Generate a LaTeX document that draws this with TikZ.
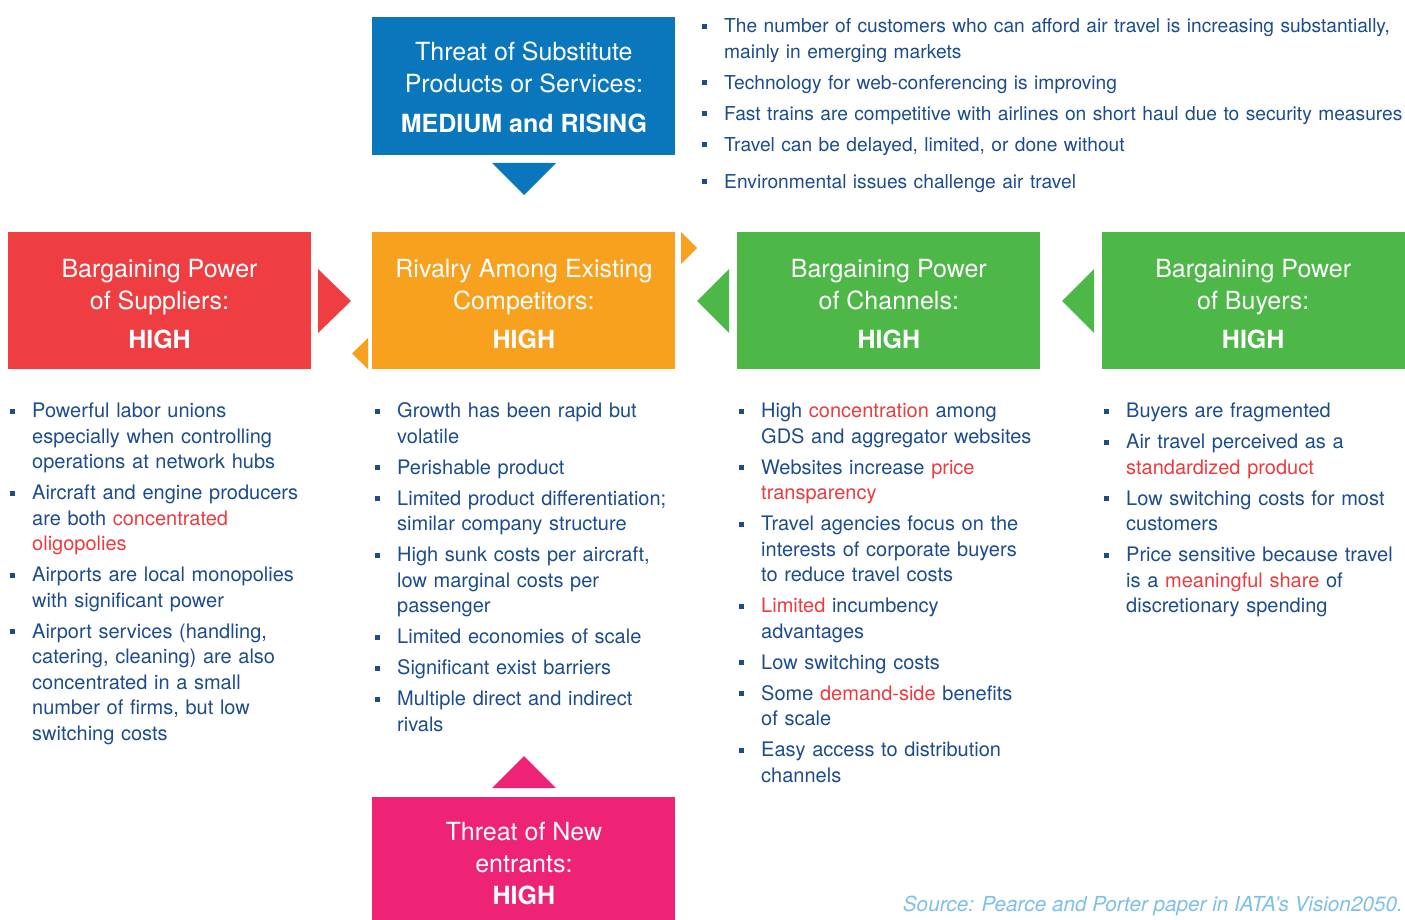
\documentclass[tikz,border=0pt]{standalone}
\usepackage{fontspec}
\setmainfont{TeX Gyre Heros}
\usetikzlibrary{positioning}

\definecolor{subblue}{HTML}{0A77BD}
\definecolor{supred}{HTML}{EF3E42}
\definecolor{rivorange}{HTML}{F7A11F}
\definecolor{chgreen}{HTML}{4DB848}
\definecolor{newpink}{HTML}{EE2375}
\definecolor{txtblue}{HTML}{1C4C8C}
\definecolor{hlred}{HTML}{EC3A3F}
\definecolor{srcblue}{HTML}{7CBFE9}

\newcommand{\hlt}[1]{\textcolor{hlred}{#1}}
\newcommand{\lift}[1]{\rule{0pt}{#1}}
\newenvironment{forcelist}{%
  \begin{list}{\rule[0.2em]{5pt}{5pt}}{%
    \setlength{\leftmargin}{22pt}\setlength{\labelwidth}{5pt}%
    \setlength{\labelsep}{17pt}\setlength{\itemsep}{5.5pt}%
    \setlength{\parsep}{0pt}\setlength{\topsep}{0pt}%
    \setlength{\partopsep}{0pt}}}{\end{list}}

\begin{document}
\begin{tikzpicture}
            [
            x=1pt, y=-1pt,
            node distance=61pt,
            forcebox/.style={
                rectangle,
                minimum width=303pt,
                minimum height=137pt,
                inner sep=0pt,
                text=white,
                align=center,
                font=\fontsize{25}{32}\selectfont
            },
            points/.style={
                anchor=north west,
                inner sep=0pt,
                text width=430pt,
                align=left,
                text=txtblue,
                font=\fontsize{20}{25.5}\selectfont
            }
            ]
            \useasboundingbox (0,0) rectangle (1405,920);
            \clip (0,0) rectangle (1405,920);

            % the five forces, in a row and in a column
            \node (suppliers) [forcebox, fill=supred] at (159.5,300.5)
                {\lift{26pt}Bargaining Power\\of Suppliers:\\[7pt]\textbf{HIGH}};
            \node (rivalry) [forcebox, fill=rivorange, right=61pt of suppliers]
                {\lift{26pt}Rivalry Among Existing\\Competitors:\\[7pt]\textbf{HIGH}};
            \node (channels) [forcebox, fill=chgreen, right=61.5pt of rivalry]
                {\lift{26pt}Bargaining Power\\of Channels:\\[7pt]\textbf{HIGH}};
            \node (buyers) [forcebox, fill=chgreen, right=61pt of channels]
                {\lift{26pt}Bargaining Power\\of Buyers:\\[7pt]\textbf{HIGH}};
            \node (substitutes) [forcebox, fill=subblue, minimum height=138pt, above=77pt of rivalry]
                {\lift{22pt}Threat of Substitute\\Products or Services:\\[8pt]\textbf{MEDIUM and RISING}};
            \node (entrants) [forcebox, fill=newpink, minimum height=132pt, below=428pt of rivalry]
                {Threat of New\\entrants:\\\textbf{HIGH}};

            % triangles pointing at the rivalry box
            \fill[subblue] (492,163) -- (556,163) -- (524,195) -- cycle;
            \fill[supred] (318,269) -- (351,301) -- (318,333) -- cycle;
            \fill[rivorange] (368,338) -- (352,353.5) -- (368,369) -- cycle;
            \fill[rivorange] (681,232) -- (697,248) -- (681,264) -- cycle;
            \fill[chgreen] (729,269) -- (697,301) -- (729,333) -- cycle;
            \fill[chgreen] (1094,269) -- (1062,301) -- (1094,333) -- cycle;
            \fill[newpink] (492,788) -- (524,756) -- (556,788) -- cycle;

            % bullet lists
            \node (subpoints) [points, text width=760pt, font=\fontsize{19.2}{25.5}\selectfont] at (702,7) {\begin{forcelist}
                \item The number of customers who can afford air travel is increasing substantially,\\ mainly in emerging markets
                \item Technology for web-conferencing is improving
                \item Fast trains are competitive with airlines on short haul due to security measures
                \item Travel can be delayed, limited, or done without\vspace{6pt}
                \item Environmental issues challenge air travel
            \end{forcelist}};

            \node (suppoints) [points] at (10,392) {\begin{forcelist}
                \item Powerful labor unions\\ especially when controlling\\ operations at network hubs
                \item Aircraft and engine producers\\ are both \hlt{concentrated}\\ \hlt{oligopolies}
                \item Airports are local monopolies\\ with significant power
                \item Airport services (handling,\\ catering, cleaning) are also\\ concentrated in a small\\ number of firms, but low\\ switching costs
            \end{forcelist}};

            \node (rivpoints) [points] at (375,392) {\begin{forcelist}
                \item Growth has been rapid but\\ volatile
                \item Perishable product
                \item Limited product differentiation;\\ similar company structure
                \item High sunk costs per aircraft,\\ low marginal costs per\\ passenger
                \item Limited economies of scale
                \item Significant exist barriers
                \item Multiple direct and indirect\\ rivals
            \end{forcelist}};

            \node (chpoints) [points] at (739,392) {\begin{forcelist}
                \item High \hlt{concentration} among\\ GDS and aggregator websites
                \item Websites increase \hlt{price}\\ \hlt{transparency}
                \item Travel agencies focus on the\\ interests of corporate buyers\\ to reduce travel costs
                \item \hlt{Limited} incumbency\\ advantages
                \item Low switching costs
                \item Some \hlt{demand-side} benefits\\ of scale
                \item Easy access to distribution\\ channels
            \end{forcelist}};

            \node (buypoints) [points] at (1104,392) {\begin{forcelist}
                \item Buyers are fragmented
                \item Air travel perceived as a\\ \hlt{standardized product}
                \item Low switching costs for most\\ customers
                \item Price sensitive because travel\\ is a \hlt{meaningful share} of\\ discretionary spending
            \end{forcelist}};

            \node (source) [anchor=east, inner sep=0pt, text=srcblue, font=\fontsize{20.7}{24}\selectfont\itshape]
                at (1403,906) {Source: Pearce and Porter paper in IATA's Vision2050.};

        \end{tikzpicture}
\end{document}
